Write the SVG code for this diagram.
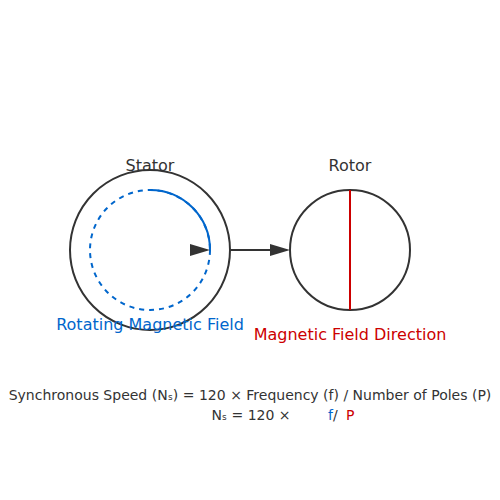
<svg xmlns="http://www.w3.org/2000/svg" width="500" height="500" viewBox="0 0 500 500">
<style>
text{font-family:"DejaVu Sans",sans-serif}
.ring{fill:none;stroke:#333;stroke-width:2}
.lbl{font-size:16px;fill:#333;text-anchor:middle}
.eq{font-size:14px;fill:#333}
.blue{fill:#0066cc}
.red{fill:#cc0000}
</style>
<rect width="500" height="500" fill="#fff"/>
<g id="stator">
<circle class="ring" cx="150" cy="250" r="80"/>
<circle cx="150" cy="250" r="60" fill="none" stroke="#0066cc" stroke-width="2" stroke-dasharray="5,5"/>
<path d="M150,190 A60,60 0 0 1 210,250" fill="none" stroke="#0066cc" stroke-width="2"/>
<polygon points="190,244 210,250 190,256" fill="#333"/>
<text class="lbl" x="150" y="171">Stator</text>
<text class="lbl blue" x="150" y="330">Rotating Magnetic Field</text>
</g>
<g id="rotor">
<circle class="ring" cx="350" cy="250" r="60"/>
<line x1="350" y1="190" x2="350" y2="310" stroke="#cc0000" stroke-width="2"/>
<text class="lbl" x="350" y="171">Rotor</text>
<text class="lbl red" x="350" y="340">Magnetic Field Direction</text>
</g>
<g id="connectors">
<line x1="230" y1="250" x2="272" y2="250" stroke="#333" stroke-width="2"/>
<polygon points="270,244 290,250 270,256" fill="#333"/>
</g>
<g id="formula">
<text class="eq" x="250" y="400" text-anchor="middle">Synchronous Speed (Nₛ) = 120 × Frequency (f) / Number of Poles (P)</text>
<text class="eq" x="251" y="420" text-anchor="middle">Nₛ = 120 ×</text>
<text class="eq" x="328" y="420"><tspan class="blue">f</tspan>/</text>
<text class="eq red" x="346" y="420">P</text>
</g>
</svg>
